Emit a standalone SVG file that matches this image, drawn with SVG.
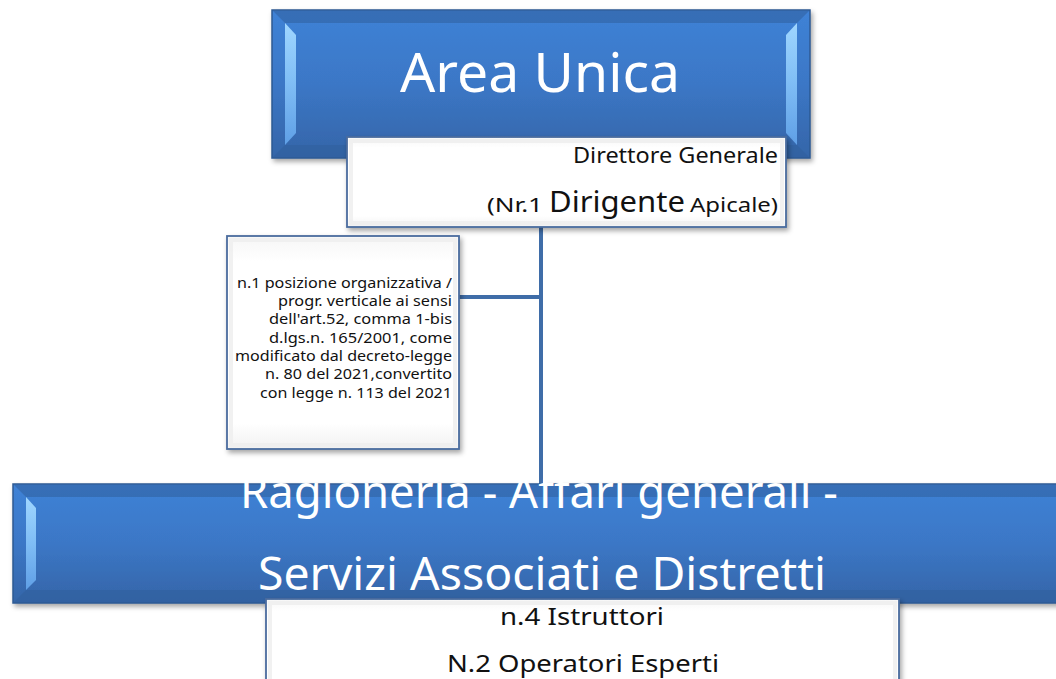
<svg xmlns="http://www.w3.org/2000/svg" width="1056" height="679" viewBox="0 0 1056 679">
  <defs>
    <linearGradient id="blueG" x1="0" y1="0" x2="0" y2="1">
      <stop offset="0" stop-color="#3f82d6"/>
      <stop offset="0.5" stop-color="#3b77c6"/>
      <stop offset="1" stop-color="#3565a8"/>
    </linearGradient>
    <linearGradient id="hiG" x1="0" y1="0" x2="0" y2="1">
      <stop offset="0" stop-color="#9fd6ff"/>
      <stop offset="0.5" stop-color="#7fbdf5"/>
      <stop offset="1" stop-color="#5f9fe6"/>
    </linearGradient>
    <linearGradient id="whiteG" x1="0" y1="0" x2="0" y2="1">
      <stop offset="0" stop-color="#f6f6f6"/>
      <stop offset="0.12" stop-color="#ffffff"/>
      <stop offset="0.88" stop-color="#ffffff"/>
      <stop offset="1" stop-color="#f1f1f1"/>
    </linearGradient>
    <filter id="sh" x="-10%" y="-10%" width="130%" height="140%">
      <feDropShadow dx="2" dy="3" stdDeviation="2.5" flood-color="#000" flood-opacity="0.35"/>
    </filter>
    <style>
      .blue { fill: url(#blueG); stroke: #2d5a93; stroke-width: 1.5; }
      .hi { fill: url(#hiG); }
      .dark { fill: #2f5f9c; opacity: 0.55; }
      .white { fill: url(#whiteG); stroke: #4a6c9e; stroke-width: 1.8; }
      .wbevel { fill: none; stroke: #ededed; stroke-width: 4; opacity: 0.8; }
      .t { font-family: "Noto Sans", "Open Sans", sans-serif; fill: #111; }
      .w { font-family: "Noto Sans", "Open Sans", sans-serif; fill: #ffffff; }
      .conn { stroke: #3f6da8; stroke-width: 4; fill: none; }
    </style>
  </defs>
  <rect width="1056" height="679" fill="#ffffff"/>

  <g id="connectors">
    <line class="conn" x1="541" y1="226" x2="541" y2="484"/>
    <line class="conn" x1="459" y1="297" x2="541" y2="297"/>
  </g>

  <g id="area-unica">
    <rect class="blue" x="272" y="10" width="538" height="148" filter="url(#sh)"/>
    <polygon class="dark" points="273,11 809,11 797,23 285,23"/>
    <polygon class="dark" points="273,157 809,157 797,145 285,145"/>
    <polygon class="hi" points="285,23 296,35 296,133 285,145"/>
    <polygon class="hi" points="797,23 786,35 786,133 797,145"/>
    <text class="w" x="400" y="92" font-size="55" textLength="280" lengthAdjust="spacingAndGlyphs">Area Unica</text>
  </g>

  <g id="direttore">
    <rect class="white" x="347" y="137" width="439" height="90" filter="url(#sh)"/>
    <rect class="wbevel" x="351" y="141" width="431" height="82"/>
    <text class="t" x="573" y="163" font-size="22" textLength="205" lengthAdjust="spacingAndGlyphs">Direttore Generale</text>
    <text class="t" x="487" y="212" font-size="20" textLength="56" lengthAdjust="spacingAndGlyphs">(Nr.1</text>
    <text class="t" x="549" y="212" font-size="29" textLength="136" lengthAdjust="spacingAndGlyphs">Dirigente</text>
    <text class="t" x="690" y="212" font-size="20" textLength="88" lengthAdjust="spacingAndGlyphs">Apicale)</text>
  </g>

  <g id="posizione">
    <rect class="white" x="227" y="236" width="232" height="213" filter="url(#sh)"/>
    <rect class="wbevel" x="231" y="240" width="224" height="205"/>
    <g class="t" font-size="14.5">
      <text x="237" y="288" textLength="215" lengthAdjust="spacingAndGlyphs">n.1 posizione organizzativa /</text>
      <text x="278" y="306" textLength="174" lengthAdjust="spacingAndGlyphs">progr. verticale ai sensi</text>
      <text x="269" y="324" textLength="183" lengthAdjust="spacingAndGlyphs">dell'art.52, comma 1-bis</text>
      <text x="269" y="343" textLength="183" lengthAdjust="spacingAndGlyphs">d.lgs.n. 165/2001, come</text>
      <text x="235" y="361" textLength="217" lengthAdjust="spacingAndGlyphs">modificato dal decreto-legge</text>
      <text x="265" y="379" textLength="187" lengthAdjust="spacingAndGlyphs">n. 80 del 2021,convertito</text>
      <text x="260" y="398" textLength="192" lengthAdjust="spacingAndGlyphs">con legge n. 113 del 2021</text>
    </g>
  </g>

  <g id="ragioneria">
    <rect class="blue" x="13" y="484" width="1060" height="119" filter="url(#sh)"/>
    <polygon class="dark" points="14,485 1060,485 1060,497 26,497"/>
    <polygon class="dark" points="14,602 1060,602 1060,590 26,590"/>
    <polygon class="hi" points="26,497 36,508 36,580 26,590"/>
    <text class="w" x="240" y="508" font-size="46" textLength="598" lengthAdjust="spacingAndGlyphs">Ragioneria - Affari generali -</text>
    <text class="w" x="258" y="590" font-size="45" textLength="568" lengthAdjust="spacingAndGlyphs">Servizi Associati e Distretti</text>
  </g>

  <g id="istruttori">
    <rect class="white" x="266" y="599" width="633" height="100" filter="url(#sh)"/>
    <rect class="wbevel" x="270" y="603" width="625" height="100"/>
    <text class="t" x="500" y="625" font-size="23" textLength="164" lengthAdjust="spacingAndGlyphs">n.4 Istruttori</text>
    <text class="t" x="447" y="672" font-size="23" textLength="272" lengthAdjust="spacingAndGlyphs">N.2 Operatori Esperti</text>
  </g>
</svg>
